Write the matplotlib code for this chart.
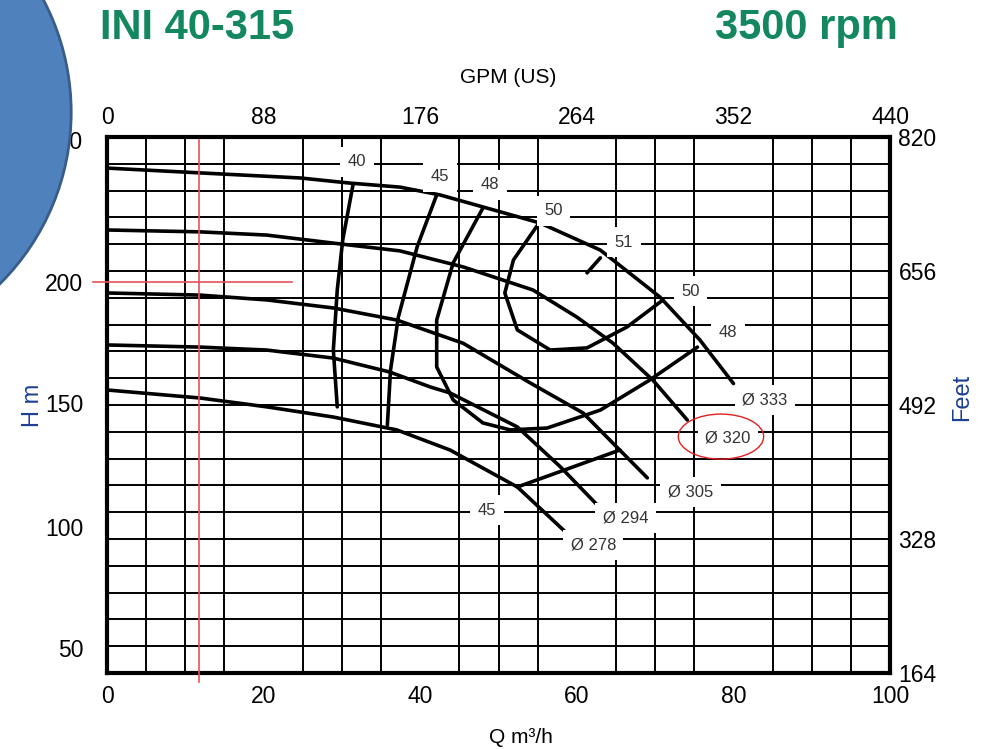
import matplotlib
matplotlib.use("Agg")
import matplotlib.pyplot as plt
from matplotlib.patches import Ellipse
from matplotlib.ticker import MultipleLocator

plt.rcParams['font.family'] = ['Liberation Sans', 'DejaVu Sans']

# head curves (Q m3/h, H m) per impeller diameter
d333_q = [0, 11.9, 24.7, 31, 37.4, 42.5, 48, 55.3, 63, 70.6, 75.7, 80]
d333_h = [238.4, 236.6, 234.7, 232.8, 231.3, 228.4, 223.9, 217.9, 207.8, 190.3, 174.3, 158]
d320_q = [0, 11.9, 20.4, 28.9, 37.4, 45.5, 54.4, 60, 64.6, 69.7, 74.1]
d320_h = [215.3, 214.6, 213.4, 210.4, 207.5, 201.5, 192.9, 182.8, 173.1, 159.3, 144.4]
d305_q = [0, 11.9, 20.4, 28.9, 37, 45.5, 54, 60.8, 65.1, 69]
d305_h = [191.8, 191, 189.2, 186.2, 181.7, 173, 158.3, 147, 134.3, 122.8]
d294_q = [0, 11.9, 20.4, 28.9, 36.1, 41.3, 43.8, 52.4, 57.9, 62.6]
d294_h = [172.4, 171.6, 170.5, 167.5, 162.3, 156.7, 154.5, 141.8, 126.9, 112.7]
d278_q = [0, 11.9, 20.4, 28.9, 37, 43.8, 52.4, 58.7]
d278_h = [155.6, 152.6, 149.3, 145.5, 140.7, 133.2, 119.4, 102.2]

# iso-efficiency lines
e40_q = [31.4, 30.1, 29.4, 28.9, 29.4]
e40_h = [232, 211.6, 192.9, 170.5, 149.3]
e45_q = [42.1, 39.6, 37.2, 36.2, 35.8]
e45_h = [228.4, 209, 182.8, 163, 142.5]
e48_q = [48, 44.2, 42.1, 42.1, 44.2, 48, 51.5, 56.2, 63, 69.3, 75.4]
e48_h = [223.5, 203, 181.7, 164.2, 151.9, 143.3, 140.7, 141.4, 148.1, 159.3, 171.6]
e50_q = [55, 51.9, 50.8, 52.4, 56.6, 61.3, 66.4, 71]
e50_h = [217.2, 204.1, 191.8, 178, 170.5, 171.3, 179.1, 189.2]
e51_q = [63, 61.3]
e51_h = [204.9, 199.3]
e45b_q = [52.4, 65.5]
e45b_h = [119.4, 133.2]

# curve labels
lab_text = ['40', '45', '48', '50', '51', '50', '48', 'Ø 333', 'Ø 320', 'Ø 305', 'Ø 294', 'Ø 278', '45']
lab_q = [31.9, 42.5, 48.9, 57, 66, 74.5, 79.3, 84, 79.3, 74.5, 66.2, 62.1, 48.5]
lab_h = [240.7, 235.1, 232.1, 222.4, 210.8, 192.5, 176.9, 151.9, 137.7, 117.5, 107.8, 97.8, 110.8]

q_ticks = [0, 20, 40, 60, 80, 100]
gpm_ticks = [0, 88, 176, 264, 352, 440]
ft_ticks = [164, 328, 492, 656, 820]
hm_labels = ['50', '100', '150', '200', '250']
# where the printed H m labels sit on the grid
hm_pos = [59.3, 104.5, 150.7, 195.9, 248.9]

fig = plt.figure(figsize=(9.82, 7.49), dpi=100)
ax = fig.add_axes([0.109, 0.1015, 0.7974, 0.7156])
ax.set_xlim(0, 100)
ax.set_ylim(50, 250)
ax.set_xticks(q_ticks)
ax.set_yticks(hm_pos, labels=hm_labels)
ax.xaxis.set_minor_locator(MultipleLocator(5))
ax.yaxis.set_minor_locator(MultipleLocator(10))
ax.grid(which='minor', color='black', lw=1.4)
ax.set_axisbelow(True)
ax.tick_params(which='both', length=0, labelsize=16.5)
ax.tick_params(axis='x', pad=9)
ax.tick_params(axis='y', pad=17)
for s in ax.spines.values():
    s.set_linewidth(3)

for q, h in [(d333_q, d333_h), (d320_q, d320_h), (d305_q, d305_h), (d294_q, d294_h),
             (d278_q, d278_h), (e40_q, e40_h), (e45_q, e45_h), (e48_q, e48_h),
             (e50_q, e50_h), (e51_q, e51_h), (e45b_q, e45b_h)]:
    ax.plot(q, h, color='black', lw=2.6, solid_capstyle='round', solid_joinstyle='round', zorder=3)

for t, q, h in zip(lab_text, lab_q, lab_h):
    ax.text(q, h, t, fontsize=12, color='#333333', ha='center', va='center', zorder=5,
            bbox=dict(boxstyle='square,pad=0.45', fc='white', ec='none'))

# highlight around the 320 mm impeller
ax.add_patch(Ellipse((78.4, 138.2), 10.9, 16.8, fill=False, ec='#e02020', lw=1, zorder=6))
# red crosshair
ax.plot([11.75, 11.75], [248.9, 46.6], color='#e8505a', lw=1.2, clip_on=False, zorder=6)
ax.plot([-1.8, 23.6], [195.9, 195.9], color='#e8505a', lw=1.2, clip_on=False, zorder=6)

# top GPM axis
top = ax.secondary_xaxis('top', functions=(lambda x: x * 4.4, lambda x: x / 4.4))
top.set_xticks(gpm_ticks)
top.tick_params(length=0, labelsize=16.5, pad=6)
top.spines['top'].set_visible(False)

# right feet axis
right = ax.secondary_yaxis('right', functions=(lambda m: m * 3.28, lambda f: f / 3.28))
right.set_yticks(ft_ticks)
right.tick_params(length=0, labelsize=16.5, pad=6)
right.spines['right'].set_visible(False)

fig.text(0.5175, 0.897, 'GPM (US)', fontsize=15, ha='center', va='center')
fig.text(0.530, 0.016, 'Q m³/h', fontsize=15, ha='center', va='center')
fig.text(0.034, 0.459, 'H m', fontsize=17, color='#1c3f94', rotation=90, ha='center', va='center')
fig.text(0.980, 0.470, 'Feet', fontsize=17, color='#1c3f94', rotation=90, ha='center', va='center')

fig.text(0.102, 0.963, 'INI 40-315', fontsize=30, fontweight='bold', color='#13885f', va='center')
fig.text(0.728, 0.963, '3500 rpm', fontsize=30, fontweight='bold', color='#13885f', va='center')

# blue slide shape in the corner
fig.patches.append(Ellipse((-0.174, 0.850), 0.493, 0.646, transform=fig.transFigure,
                           fc='#4f81bd', ec='#385d8a', lw=2, zorder=10))

fig.savefig('out.png', dpi=100)
